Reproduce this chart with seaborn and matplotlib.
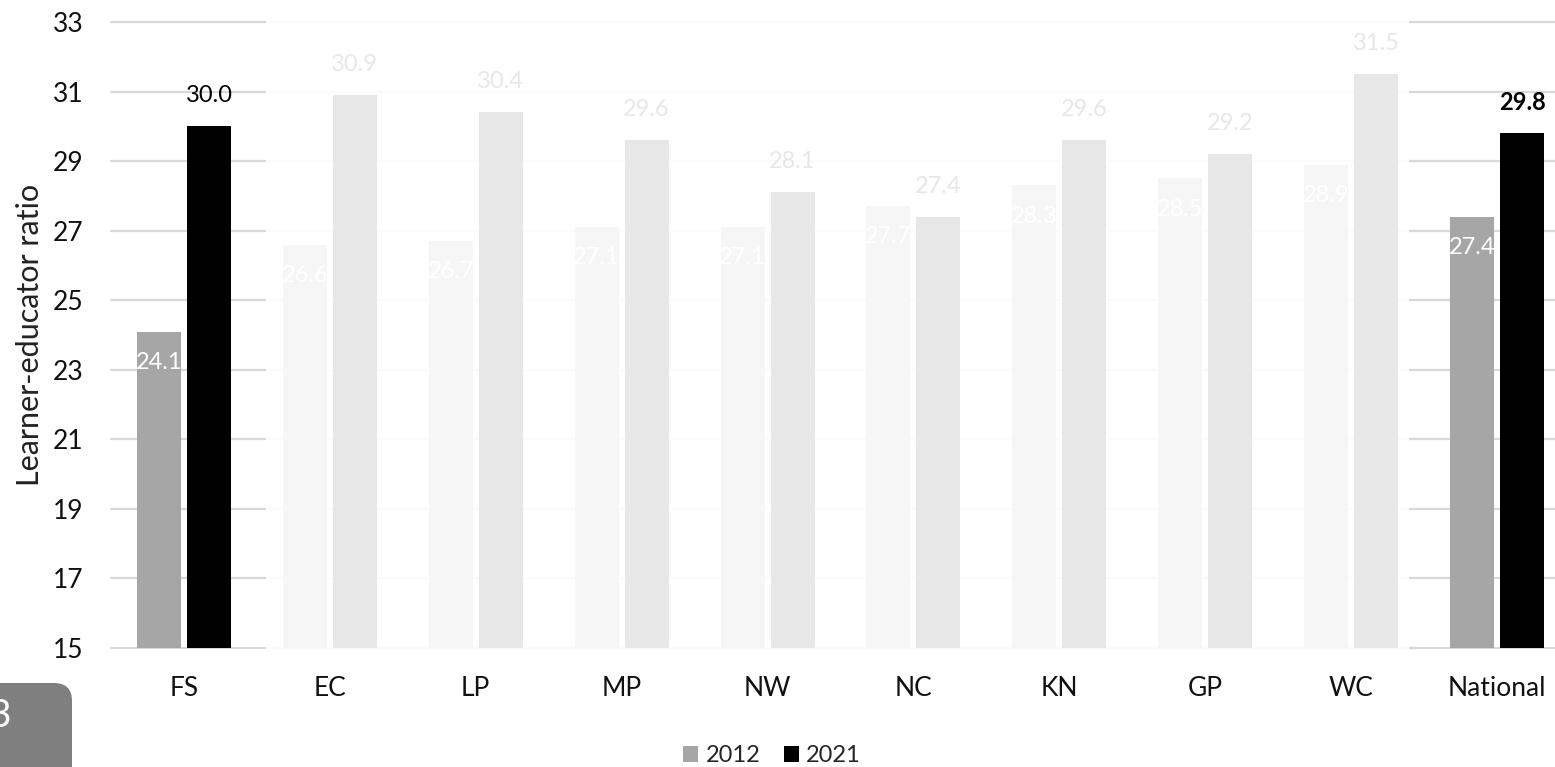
import matplotlib
matplotlib.use("Agg")
import matplotlib.pyplot as plt
import matplotlib.transforms as mtransforms
from matplotlib.patches import Rectangle, FancyBboxPatch, Patch
import pandas as pd
import seaborn as sns

# Learner-educator ratios by province
provinces = ["FS", "EC", "LP", "MP", "NW", "NC", "KN", "GP", "WC", "National"]
ratio_2012 = [24.1, 26.6, 26.7, 27.1, 27.1, 27.7, 28.3, 28.5, 28.9, 27.4]
ratio_2021 = [30.0, 30.9, 30.4, 29.6, 28.1, 27.4, 29.6, 29.2, 31.5, 29.8]
years = ["2012", "2021"]
y_ticks = list(range(15, 34, 2))
year_colors = {"2012": "#a6a6a6", "2021": "#000000"}

df = pd.DataFrame({
    "province": provinces * 2,
    "year": [years[0]] * len(provinces) + [years[1]] * len(provinces),
    "ratio": ratio_2012 + ratio_2021,
})

sns.set_theme(style="white")
plt.rcParams["font.family"] = ["Lato", "DejaVu Sans"]

W, H = 1555, 767
fig = plt.figure(figsize=(W / 100, H / 100), dpi=100)
ax = fig.add_axes([111 / W, 1 - 648 / H, 1459 / W, 626 / H])

sns.barplot(data=df, x="province", y="ratio", hue="year", order=provinces,
            hue_order=years, palette=year_colors, width=0.685, gap=0.12,
            saturation=1, errorbar=None, legend=False, linewidth=0, ax=ax)

ax.set_ylim(15, 33)
ax.set_yticks(y_ticks)
ax.set_yticklabels([str(t) for t in y_ticks])
ax.set_xlim(-0.5, len(provinces) - 0.5)
for s in ax.spines.values():
    s.set_visible(False)
ax.yaxis.grid(True, color="#d9d9d9", linewidth=1.6)
ax.xaxis.grid(False)
ax.set_axisbelow(True)
for gl in ax.get_ygridlines():
    gl.set_clip_on(False)

ax.tick_params(axis="y", length=0, pad=20, labelsize=19, labelcolor="#111111")
ax.tick_params(axis="x", length=0, pad=20, labelsize=19, labelcolor="#111111")
ax.set_xlabel("")
ax.set_ylabel("Learner-educator ratio", fontsize=22, color="#222222")
ax.yaxis.set_label_coords(-0.046, 0.5)

# value labels: 2012 inside the bar top, 2021 above the bar
for bar, v in zip(ax.containers[0], ratio_2012):
    ax.annotate(f"{v:.1f}", (bar.get_x() + bar.get_width() / 2, v),
                xytext=(0, -22), textcoords="offset points",
                ha="center", va="center", fontsize=17, color="white")
for i, (bar, v) in enumerate(zip(ax.containers[1], ratio_2021)):
    ax.annotate(f"{v:.1f}", (bar.get_x() + bar.get_width() / 2, v),
                xytext=(0, 22), textcoords="offset points",
                ha="center", va="center", fontsize=17, color="black",
                fontweight="bold" if provinces[i] == "National" else "normal")

# fade the provinces between FS and National
blend = mtransforms.blended_transform_factory(ax.transData, ax.transAxes)
ax.add_patch(Rectangle((0.562, -0.02), 8.396 - 0.562, 1.07, transform=blend,
                       facecolor="white", edgecolor="none", alpha=0.91,
                       zorder=10, clip_on=False))

fig.legend(handles=[Patch(facecolor=year_colors[y], edgecolor="none") for y in years],
           labels=years, loc="center", bbox_to_anchor=(772 / W, 1 - 756 / H),
           ncol=2, frameon=False, fontsize=17, handlelength=0.65, handleheight=0.65,
           handletextpad=0.3, columnspacing=1.0)

# page number tab
fig.add_artist(FancyBboxPatch((-0.3, -0.4), 1.02, 1.24,
                              boxstyle="round,pad=0,rounding_size=0.18",
                              transform=fig.dpi_scale_trans,
                              facecolor="#7f7f7f", edgecolor="none"))
fig.text(0.0, 0.51, "3", transform=fig.dpi_scale_trans, ha="center", va="center",
         fontsize=28, color="white")

fig.savefig("out.png", dpi=100)
